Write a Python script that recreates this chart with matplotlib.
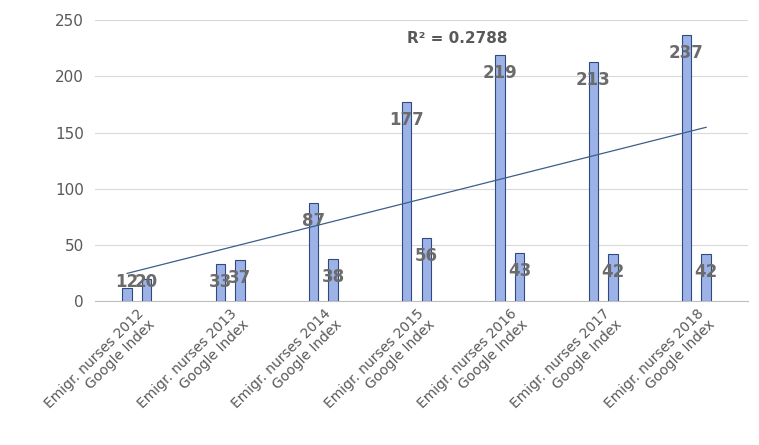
import matplotlib
matplotlib.use("Agg")
import matplotlib.pyplot as plt
import numpy as np

years = ["2012", "2013", "2014", "2015", "2016", "2017", "2018"]
nurses = [12, 33, 87, 177, 219, 213, 237]
google = [20, 37, 38, 56, 43, 42, 42]
yticks = [0, 50, 100, 150, 200, 250]
r2_label = "R² = 0.2788"

fig = plt.figure(figsize=(7.59, 4.45), dpi=100)
ax = fig.add_axes([0.125, 0.323, 0.86, 0.632])
x = np.arange(len(years))
off = 0.105
w = 0.1
for xs, vals in ((x - off, nurses), (x + off, google)):
    ax.bar(xs, vals, width=w, color="#9db3e8", edgecolor="#2f4a80", linewidth=0.8, zorder=3)
    for xi, v in zip(xs, vals):
        ax.text(xi, max(v - 16, 17), str(v), ha="center", va="center",
                fontsize=12, fontweight="bold", color="#6b6b6b", zorder=4)

# straight linear trendline fitted over all 14 bars
allx = np.ravel(np.column_stack([x - off, x + off]))
ally = np.ravel(np.column_stack([nurses, google]))
p = np.polyfit(allx, ally, 1)
ends = np.array([allx[0], allx[-1]])
ax.plot(ends, np.polyval(p, ends), color="#3b5f8a", linewidth=0.9, zorder=5)
ax.text(2.9, 230, r2_label, fontsize=11, fontweight="bold", color="#595959")

ax.set_ylim(0, 250)
ax.set_xlim(-0.45, 6.55)
ax.set_yticks(yticks)
ax.tick_params(axis="y", length=0, labelsize=11, labelcolor="#595959", pad=8)
ax.grid(axis="y", color="#d9d9d9", linewidth=0.8, zorder=0)
for s in ("top", "right", "left"):
    ax.spines[s].set_visible(False)
ax.spines["bottom"].set_color("#bfbfbf")
ax.set_xticks(x)
ax.set_xticklabels([f"Emigr. nurses {y}\nGoogle Index" for y in years], rotation=45,
                   ha="right", rotation_mode="anchor", fontsize=10, color="#595959")
ax.tick_params(axis="x", length=0)
fig.savefig("out.png", dpi=100)
